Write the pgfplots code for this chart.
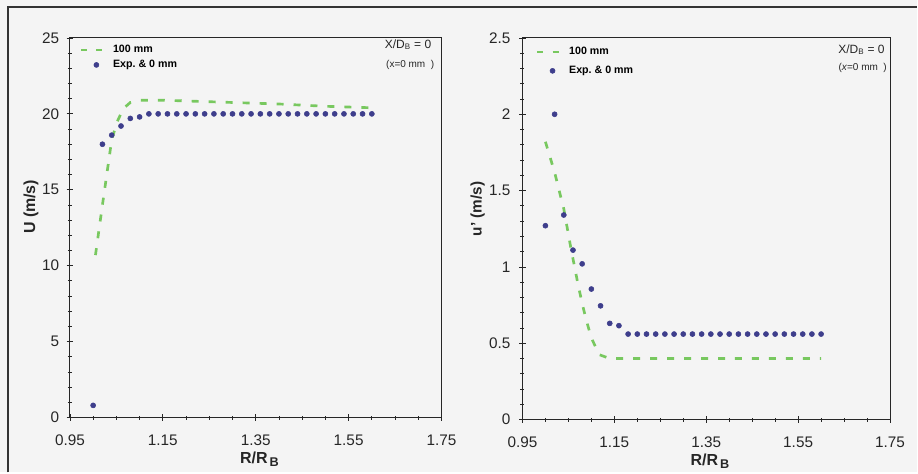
\documentclass[border=0pt]{standalone}
\usepackage{fontspec}
\setmainfont{Liberation Sans}
\usepackage{pgfplots}
\pgfplotsset{compat=1.18}
\definecolor{dgreen}{RGB}{120,200,95}
\definecolor{dblue}{RGB}{62,62,140}
\definecolor{bg}{RGB}{244,244,244}
\pgfplotsset{
  common/.style={
    scale only axis, anchor=south west,
    axis line style={line width=0.7pt, black!85},
    xmin=0.95, xmax=1.75,
    xtick={0.95,1.15,1.35,1.55,1.75},
    xticklabels={0.95,1.15,1.35,1.55,1.75},
    minor x tick num=3, minor y tick num=4,
    xtick pos=lower, ytick pos=left,
    tick align=center,
    major tick length=5pt, minor tick length=3pt,
    tick style={line width=0.6pt, black!85},
    ticklabel style={font=\fontsize{11.5}{13}\selectfont, black!85},
    xticklabel style={yshift=-7pt},
    label style={font=\bfseries\fontsize{12}{14}\selectfont, black!85},
    xlabel={R/R\raisebox{-0.4ex}{\fontsize{9.5}{10}\selectfont\,B}},
    xlabel style={at={(axis description cs:0.51,0)}, anchor=north, yshift=-22pt},
    legend style={draw=none, fill=none, font=\bfseries\fontsize{8}{9}\selectfont,
      anchor=north west, cells={anchor=west}},
    legend cell align=left,
  },
  gline/.style={dgreen, line width=2pt, dash pattern=on 5.25pt off 7.5pt,
    legend image code/.code={\draw[##1, dash pattern=on 4.5pt off 7pt] (0pt,0pt) -- (16pt,0pt); \path (21pt,0pt);}},
  bdot/.style={only marks, mark=*, mark size=1.9pt, dblue, mark options={draw=dblue, fill=dblue},
    legend image code/.code={\path (0pt,0pt) (21pt,0pt); \fill[dblue] (11.5pt,0pt) circle (1.9pt);}},
}
\begin{document}
\begin{tikzpicture}
\fill[bg] (0pt,0pt) rectangle (688.5pt,354.75pt);
\draw[line width=1.5pt, black!80] (6pt,0pt) -- (6pt,349.5pt) -- (688.5pt,349.5pt);

\begin{axis}[common,
  at={(52.5pt,41.25pt)}, width=279pt, height=285pt,
  ymin=0, ymax=25, ytick={0,5,10,15,20,25}, yticklabels={0,5,10,15,20,25},
  yticklabel style={xshift=-2pt},
  ylabel={U (m/s)},
  ylabel style={at={(axis description cs:-0.105,0.555)}, anchor=center},
  legend style={at={(0.015,0.995)}, row sep=0pt},
]
\addplot[gline] coordinates {
(1.005,10.7) (1.02,14.0) (1.04,18.3) (1.052,19.5) (1.065,20.35) (1.08,20.75)
(1.10,20.9) (1.15,20.9) (1.20,20.85) (1.30,20.75) (1.40,20.65) (1.50,20.5) (1.60,20.4)};
\addlegendentry{100 mm}
\addplot[bdot] coordinates {
(1.00,0.8) (1.02,18.0) (1.04,18.6) (1.06,19.2) (1.08,19.7) (1.10,19.8)
(1.12,20) (1.14,20) (1.16,20) (1.18,20) (1.20,20) (1.22,20) (1.24,20) (1.26,20)
(1.28,20) (1.30,20) (1.32,20) (1.34,20) (1.36,20) (1.38,20) (1.40,20) (1.42,20)
(1.44,20) (1.46,20) (1.48,20) (1.50,20) (1.52,20) (1.54,20) (1.56,20) (1.58,20) (1.60,20)};
\addlegendentry{Exp.\ \& 0 mm}
\node[anchor=east, font=\fontsize{9}{10}\selectfont, black!85, inner sep=0pt] at (rel axis cs:0.973,0.9816) {X/D\textsubscript{B} = 0};
\node[anchor=east, font=\fontsize{7.5}{9}\selectfont, black!85, inner sep=0pt] at (rel axis cs:0.981,0.929) {(x=0 mm\ \ )};
\end{axis}

\begin{axis}[common,
  at={(392.25pt,39.75pt)}, width=276pt, height=286.5pt,
  ymin=0, ymax=2.5, ytick={0,0.5,1,1.5,2,2.5}, yticklabels={0,0.5,1,1.5,2,2.5},
  yticklabel style={xshift=-3pt},
  ylabel={u' (m/s)},
  ylabel style={at={(axis description cs:-0.122,0.552)}, anchor=center, font=\bfseries\fontsize{11.5}{13}\selectfont},
  legend style={at={(0.025,0.99)}, row sep=3pt},
]
\addplot[gline] coordinates {
(1.00,1.82) (1.02,1.62) (1.04,1.38) (1.055,1.13) (1.07,0.90) (1.08,0.76)
(1.09,0.64) (1.10,0.535) (1.117,0.425) (1.14,0.40) (1.20,0.40) (1.40,0.40) (1.60,0.40)};
\addlegendentry{100 mm}
\addplot[bdot] coordinates {
(1.00,1.27) (1.02,2.00) (1.04,1.34) (1.06,1.11) (1.08,1.02) (1.10,0.855)
(1.12,0.745) (1.14,0.63) (1.16,0.615) (1.18,0.56) (1.20,0.56) (1.22,0.56)
(1.24,0.56) (1.26,0.56) (1.28,0.56) (1.30,0.56) (1.32,0.56) (1.34,0.56) (1.36,0.56)
(1.38,0.56) (1.40,0.56) (1.42,0.56) (1.44,0.56) (1.46,0.56) (1.48,0.56) (1.50,0.56)
(1.52,0.56) (1.54,0.56) (1.56,0.56) (1.58,0.56) (1.60,0.56)};
\addlegendentry{Exp.\ \& 0 mm}
\node[anchor=east, font=\fontsize{9}{10}\selectfont, black!85, inner sep=0pt] at (rel axis cs:0.986,0.969) {X/D\textsubscript{B} = 0};
\node[anchor=east, font=\fontsize{7.5}{9}\selectfont, black!85, inner sep=0pt] at (rel axis cs:0.992,0.921) {(\textit{x}=0 mm\ \ )};
\end{axis}
\end{tikzpicture}
\end{document}
